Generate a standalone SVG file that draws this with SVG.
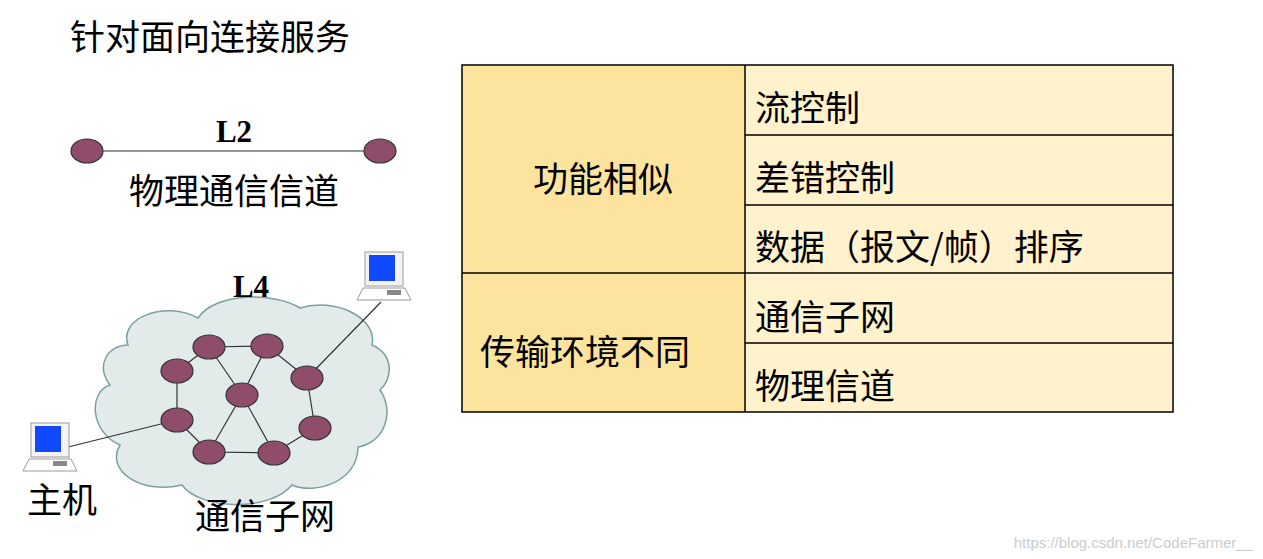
<svg xmlns="http://www.w3.org/2000/svg" width="1263" height="559" viewBox="0 0 1263 559">
<style>
.t{font-family:"Noto Sans CJK SC","Noto Sans",sans-serif;font-size:35px;fill:#000}
.b{font-family:"Liberation Serif",serif;font-weight:bold;font-size:31px}
.n{fill:#8f4d6b;stroke:#333;stroke-width:1.2}
.e{stroke:#333;stroke-width:1.2;fill:none}
.c{stroke:#000;stroke-width:1.5}
</style>
<defs>
<g id="pc">
<rect x="8" y="0" width="38" height="34" fill="#f4f4f4" stroke="#999"/>
<rect x="12" y="3" width="26" height="26" fill="#1149ff"/>
<path d="M0,48 L6,36 L48,36 L54,48 Z" fill="#fff" stroke="#999"/>
<rect x="30" y="38" width="14" height="5" fill="#888"/>
</g>
</defs>
<rect width="1263" height="559" fill="#fff"/>
<text x="70" y="50" class="t" font-size="37">针对面向连接服务</text>
<g id="l2">
<line x1="87" y1="151" x2="380" y2="151" class="e"/>
<ellipse cx="87" cy="151" rx="16" ry="12" class="n"/>
<ellipse cx="380" cy="151" rx="16" ry="12" class="n"/>
<text x="234" y="142" class="b" text-anchor="middle">L2</text>
<text x="234" y="204" class="t" font-size="32" text-anchor="middle">物理通信信道</text>
</g>
<g id="cloud">
<path d="M128,345 C118,318 165,300 198,318 C215,292 275,292 300,308 C335,297 378,318 372,345 C395,355 392,380 380,390 C395,412 385,442 358,447 C358,482 315,495 292,485 C270,512 200,510 182,485 C140,495 105,470 120,445 C90,432 88,392 110,385 C95,365 108,345 128,345 Z" fill="#e3eaea" stroke="#7aa0a0" stroke-width="1.5"/>
</g>
<text x="251" y="297" class="b" text-anchor="middle">L4</text>
<g id="connectors">
<path class="e" d="M209,347 L267,346 M209,347 L177,371 M209,347 L242,395 M267,346 L242,395 M267,346 L307,378 M177,371 L177,420 M307,378 L315,428 M177,420 L209,452 M209,452 L274,453 M242,395 L209,452 M242,395 L274,453 M315,428 L274,453 M177,420 L68,447 M307,378 L381,302"/>
</g>
<g id="nodes">
<ellipse cx="209" cy="347" rx="16" ry="12" class="n"/>
<ellipse cx="267" cy="346" rx="16" ry="12" class="n"/>
<ellipse cx="177" cy="371" rx="16" ry="12" class="n"/>
<ellipse cx="307" cy="378" rx="16" ry="12" class="n"/>
<ellipse cx="242" cy="395" rx="16" ry="12" class="n"/>
<ellipse cx="177" cy="420" rx="16" ry="12" class="n"/>
<ellipse cx="315" cy="428" rx="16" ry="12" class="n"/>
<ellipse cx="209" cy="452" rx="16" ry="12" class="n"/>
<ellipse cx="274" cy="453" rx="16" ry="12" class="n"/>
</g>
<g id="host1"><use href="#pc" x="357" y="252"/></g>
<g id="host2"><use href="#pc" x="23" y="423"/></g>
<text x="62" y="513" class="t" font-size="32" text-anchor="middle">主机</text>
<text x="265" y="529" class="t" font-size="32" text-anchor="middle">通信子网</text>
<g id="table">
<rect x="462" y="65" width="283" height="347" fill="#fde49e"/>
<rect x="745" y="65" width="428" height="347" fill="#fff2cc"/>
<rect x="462" y="65" width="711" height="347" fill="none" class="c"/>
<path class="c" d="M745,65 V412 M462,273 H1173 M745,135 H1173 M745,205 H1173 M745,343 H1173"/>
<text x="603" y="192" class="t" text-anchor="middle">功能相似</text>
<text x="585" y="365" class="t" text-anchor="middle">传输环境不同</text>
<text x="755" y="121" class="t">流控制</text>
<text x="755" y="191" class="t">差错控制</text>
<text x="755" y="260" class="t">数据（报文/帧）排序</text>
<text x="755" y="330" class="t">通信子网</text>
<text x="755" y="399" class="t">物理信道</text>
</g>
<text x="1253" y="548" font-family="Liberation Sans,sans-serif" font-size="15" fill="#ccc" text-anchor="end">https://blog.csdn.net/CodeFarmer__</text>
</svg>
